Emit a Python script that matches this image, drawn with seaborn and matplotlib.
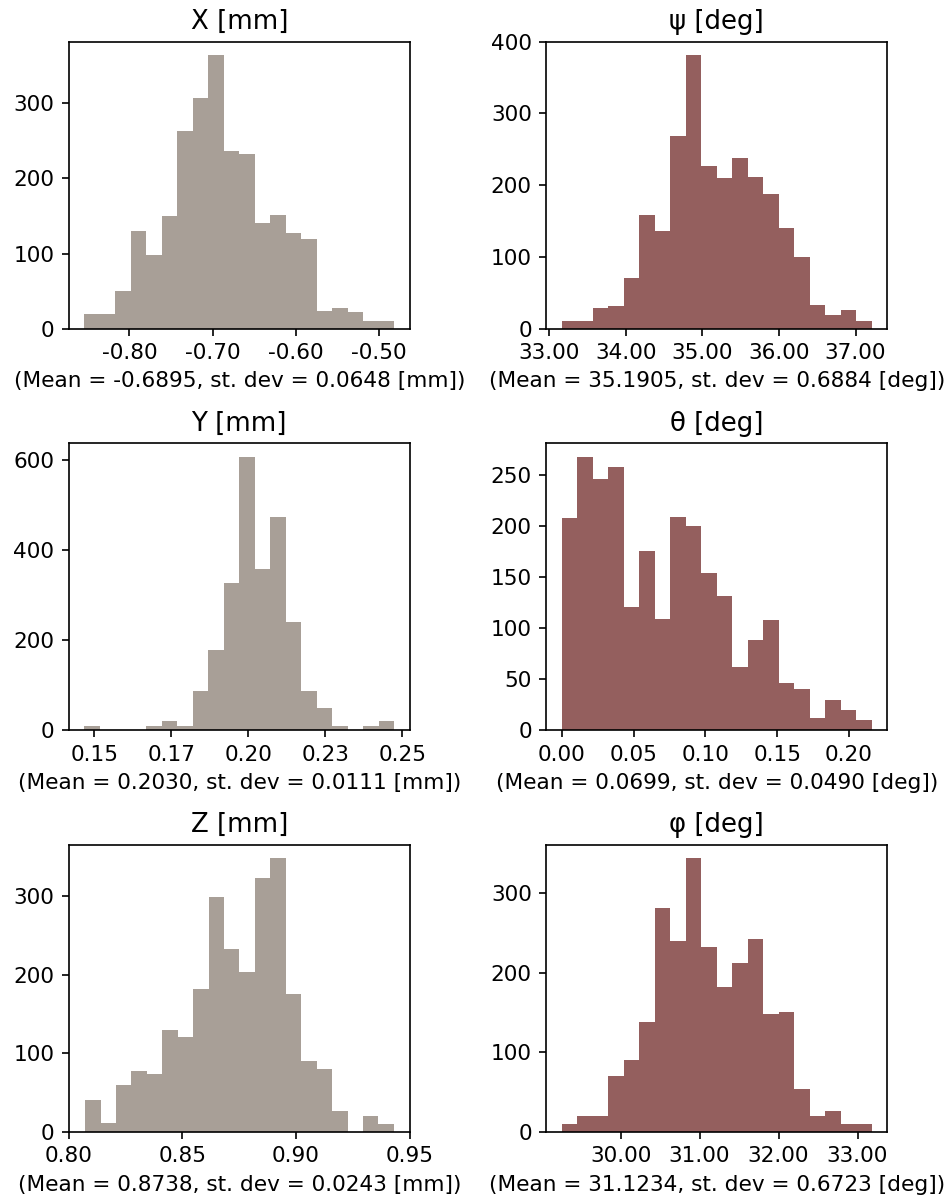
import numpy as np
import pandas as pd
import matplotlib
matplotlib.use("Agg")
import matplotlib.pyplot as plt
from matplotlib.ticker import StrMethodFormatter
import seaborn as sns

plt.rcParams["axes.unicode_minus"] = False
plt.rcParams["font.size"] = 10.4

# Histogram counts (20 bins each) and the value range covered by the bins
x_counts = [19, 19, 50, 130, 98, 150, 263, 307, 364, 236,
            232, 141, 151, 128, 120, 24, 28, 22, 10, 10]
x_range = (-0.854, -0.482)

y_counts = [10, 0, 0, 0, 10, 20, 10, 87, 179, 327,
            607, 359, 474, 241, 87, 50, 10, 0, 10, 20]
y_range = (0.1468, 0.2473)

z_counts = [40, 11, 60, 77, 74, 129, 120, 182, 299, 233,
            204, 323, 348, 175, 90, 80, 26, 0, 20, 10]
z_range = (0.8071, 0.9431)

psi_counts = [10, 10, 29, 31, 70, 158, 136, 268, 381, 227,
              210, 238, 211, 187, 140, 100, 33, 19, 26, 10]
psi_range = (33.165, 37.209)

theta_counts = [208, 268, 246, 258, 121, 176, 109, 209, 200, 154,
                132, 62, 88, 108, 46, 40, 12, 30, 20, 10]
theta_range = (0.0, 0.2158)

phi_counts = [10, 20, 20, 70, 90, 138, 282, 240, 344, 232,
              182, 213, 242, 148, 151, 54, 20, 26, 10, 10]
phi_range = (29.257, 33.177)

titles = ["X [mm]", "ψ [deg]", "Y [mm]", "θ [deg]", "Z [mm]", "φ [deg]"]
summaries = [
    "(Mean = -0.6895, st. dev = 0.0648 [mm])",
    "(Mean = 35.1905, st. dev = 0.6884 [deg])",
    "(Mean = 0.2030, st. dev = 0.0111 [mm])",
    "(Mean = 0.0699, st. dev = 0.0490 [deg])",
    "(Mean = 0.8738, st. dev = 0.0243 [mm])",
    "(Mean = 31.1234, st. dev = 0.6723 [deg])",
]

pos_color = "#a89f97"
rot_color = "#945f5e"

panels = [
    (x_counts, x_range, pos_color),
    (psi_counts, psi_range, rot_color),
    (y_counts, y_range, pos_color),
    (theta_counts, theta_range, rot_color),
    (z_counts, z_range, pos_color),
    (phi_counts, phi_range, rot_color),
]

fig, axes = plt.subplots(3, 2, figsize=(950 / 150, 1203 / 150), dpi=150)
fig.subplots_adjust(left=0.0726, right=0.9337, top=0.9653, bottom=0.0593,
                    wspace=0.402, hspace=0.40)

for ax, (counts, (lo, hi), color), title, summary in zip(
        axes.flat, panels, titles, summaries):
    nbins = len(counts)
    edges = np.linspace(lo, hi, nbins + 1)
    frame = pd.DataFrame({
        "value": 0.5 * (edges[:-1] + edges[1:]),
        "count": np.asarray(counts, dtype=float),
    })
    sns.histplot(data=frame, x="value", weights="count",
                 bins=nbins, binrange=(lo, hi), ax=ax,
                 color=color, alpha=1.0, edgecolor=color, linewidth=0)
    ax.set_title(title)
    ax.set_xlabel(summary)
    ax.set_ylabel("")
    ax.xaxis.set_major_formatter(StrMethodFormatter("{x:.2f}"))

axes[2, 0].set_xlim(0.80, 0.95)

fig.savefig("out.png", dpi=150)
